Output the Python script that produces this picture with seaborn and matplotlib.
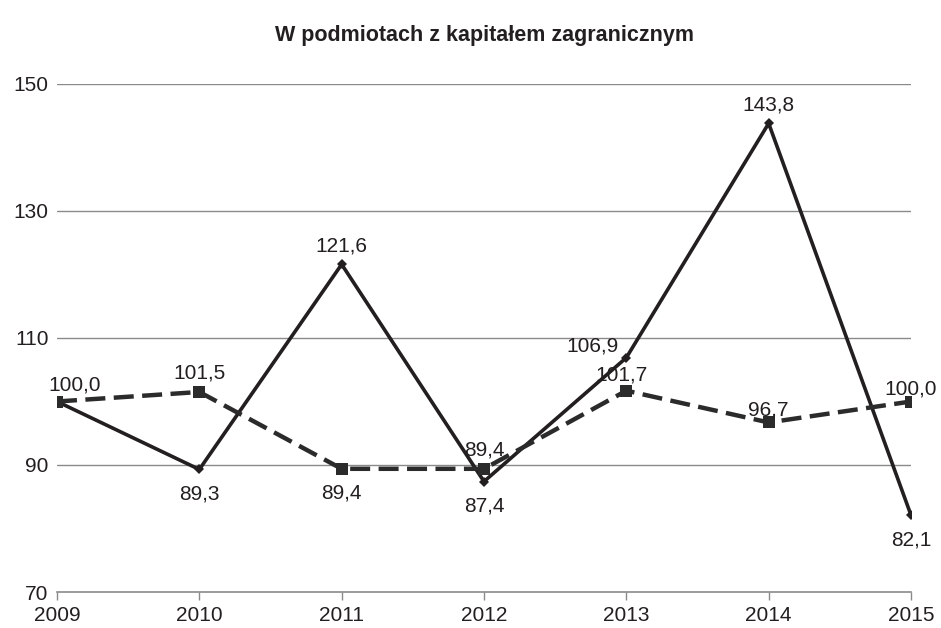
import numpy as np
import pandas as pd
import matplotlib
matplotlib.use("Agg")
import matplotlib.pyplot as plt
import seaborn as sns

# Data
years = [2009, 2010, 2011, 2012, 2013, 2014, 2015]
solid_values = [100.0, 89.3, 121.6, 87.4, 106.9, 143.8, 82.1]
dashed_values = [100.0, 101.5, 89.4, 89.4, 101.7, 96.7, 100.0]
y_ticks = [70, 90, 110, 130, 150]
title = "W podmiotach z kapitałem zagranicznym"

# where each value label sits relative to its point
solid_pos = ["above", "below", "above", "below", "left", "above", "below"]
dashed_pos = ["above_r", "above", "below", "above", "above_l", "near", "near"]

sns.set_theme(style="white")
plt.rcParams['font.family'] = ['Liberation Sans', 'DejaVu Sans']

ink = "#231f20"
df = pd.DataFrame({"year": years, "solid": solid_values, "dashed": dashed_values})

fig = plt.figure(figsize=(9.41, 6.28), dpi=100)
ax = fig.add_axes([57 / 941, 36 / 628, 854 / 941, 508 / 628])

sns.lineplot(data=df, x="year", y="solid", ax=ax, color=ink, lw=2.6,
             marker="D", markersize=5, markeredgewidth=0, zorder=3)
sns.lineplot(data=df, x="year", y="dashed", ax=ax, color="#2b2b2b", lw=3.2,
             linestyle=(0, (4.5, 1.9)), marker="s", markersize=8.5,
             markeredgewidth=0, zorder=4)

ax.set_xlim(years[0], years[-1])
ax.set_ylim(y_ticks[0], y_ticks[-1])
ax.set_yticks(y_ticks)
ax.set_xticks(years)
ax.set_xticklabels([str(y) for y in years])
ax.set_xlabel("")
ax.set_ylabel("")

for y in y_ticks[1:]:
    ax.axhline(y, color="#8a8a8a", lw=1.0, zorder=1)

for s in ["top", "right", "left"]:
    ax.spines[s].set_visible(False)
ax.spines["bottom"].set_color("#8a8a8a")
ax.spines["bottom"].set_linewidth(1.2)

ax.tick_params(axis="y", length=0, pad=6, labelsize=15, labelcolor=ink)
ax.tick_params(axis="x", length=6, width=1, color="#8a8a8a", direction="out",
               pad=4, labelsize=15, labelcolor=ink, bottom=True)


def fmt(v):
    return f"{v:.1f}".replace(".", ",")


# offsets in pixels (dx, dy), alignment
offsets = {
    "above": (0, 9, "center", "bottom"),
    "above_r": (18, 7, "center", "bottom"),
    "above_l": (-5, 6, "center", "bottom"),
    "near": (0, 3, "center", "bottom"),
    "below": (0, -15, "center", "top"),
    "left": (-8, 2, "right", "bottom"),
}

for vals, pos in [(solid_values, solid_pos), (dashed_values, dashed_pos)]:
    for i, (x, v) in enumerate(zip(years, vals)):
        if vals is solid_values and i == 0:
            continue  # shared 100,0 label drawn once
        dx, dy, ha, va = offsets[pos[i]]
        ax.annotate(fmt(v), (x, v), xytext=(dx * 0.72, dy * 0.72),
                    textcoords="offset points", ha=ha, va=va,
                    fontsize=15, color=ink, zorder=5, annotation_clip=False)

fig.text(484 / 941, 1 - 35 / 628, title, ha="center", va="center",
         fontsize=15.5, fontweight="bold", color=ink)

fig.savefig("out.png", dpi=100)
plt.close(fig)
